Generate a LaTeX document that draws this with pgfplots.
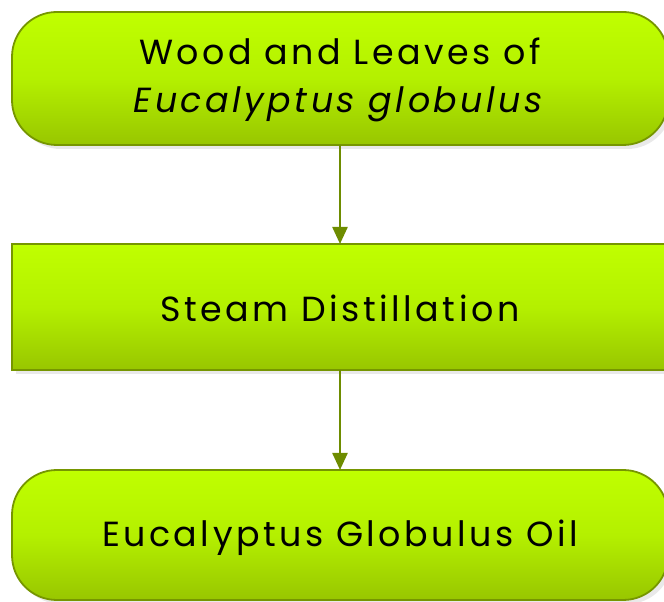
\documentclass[border=0pt]{standalone}
\usepackage{pgfplots}
\pgfplotsset{compat=1.18}
\usetikzlibrary{arrows.meta}
\usepackage{fontspec}
\setmainfont[LetterSpace=10]{Poppins}
\definecolor{boxtop}{RGB}{192,255,0}
\definecolor{boxmid}{RGB}{180,240,0}
\definecolor{boxbot}{RGB}{152,198,0}
\definecolor{boxline}{RGB}{118,150,0}
\definecolor{arrowc}{RGB}{110,140,0}
\begin{document}
\begin{tikzpicture}
\begin{axis}[
  scale only axis, width=664bp, height=602bp,
  xmin=0, xmax=664, ymin=0, ymax=602,
  axis lines=none, ticks=none,
  clip=true,
]
% shadows
\fill[black!40,opacity=0.22,rounded corners=45pt] (16,453) rectangle (672,586);
\fill[black!40,opacity=0.22] (16,228) rectangle (672,354);
\fill[black!40,opacity=0.22,rounded corners=45pt] (16,-2) rectangle (672,128);
% boxes
\draw[boxline,line width=1.8bp,rounded corners=45pt,top color=boxtop,bottom color=boxbot,middle color=boxmid] (12,457) rectangle (668,590);
\draw[boxline,line width=1.8bp,top color=boxtop,bottom color=boxbot,middle color=boxmid] (12,232) rectangle (668,358);
\draw[boxline,line width=1.8bp,rounded corners=45pt,top color=boxtop,bottom color=boxbot,middle color=boxmid] (12,2) rectangle (668,132);
% arrows
\draw[arrowc,line width=2.4bp,-{Triangle[length=17bp,width=15bp]}] (340,457) -- (340,358);
\draw[arrowc,line width=2.4bp,-{Triangle[length=17bp,width=15bp]}] (340,232) -- (340,132);
% texts
\node[align=center,font=\fontsize{35}{48}\selectfont] at (340,522) {Wood and Leaves of\\\textit{Eucalyptus globulus}};
\node[font=\fontsize{35}{48}\selectfont] at (340,294) {Steam Distillation};
\node[font=\fontsize{35}{48}\selectfont] at (340,64) {Eucalyptus Globulus Oil};
\end{axis}
\pgfresetboundingbox
\path (current axis.south west) rectangle (current axis.north east);
\end{tikzpicture}
\end{document}
